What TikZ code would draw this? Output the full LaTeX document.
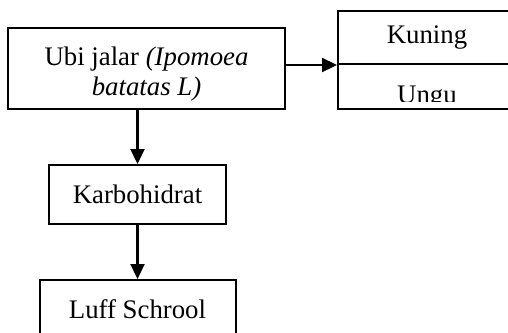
\documentclass[tikz,border=0pt]{standalone}
\usepackage{fontspec}
\setmainfont{Liberation Serif}
\usetikzlibrary{arrows.meta, positioning}

\tikzset{
  kotak/.style={draw, line width=1pt, align=center, inner sep=0pt,
                font=\fontsize{13.4}{15}\selectfont},
  teks/.style={align=center, inner sep=0pt, font=\fontsize{13.4}{15}\selectfont},
  panah/.style={line width=1.1pt, -{Triangle[length=7.5pt, width=7pt]}}
}

\begin{document}
\begin{tikzpicture}[x=0.5pt, y=-0.5pt]
  \useasboundingbox (0,0) rectangle (508,332);
  \clip (0,0) rectangle (508,332);

  % bahan utama
  \node[kotak, minimum width=138.5pt, minimum height=40.5pt] (ubi) at (146.5,68.5) {};
  \node[teks] (ubiteks) at ([yshift=-3pt]ubi.center)
    {Ubi jalar \textit{(Ipomoea}\\ \textit{batatas L)}};

  % warna ubi jalar
  \node[kotak, minimum width=89pt, minimum height=26.75pt, anchor=north west]
    (kuning) at (337,9.5) {Kuning};
  \node[kotak, minimum width=89pt, minimum height=22.5pt, anchor=north,
        below=-1pt of kuning] (ungukotak) {};
  \begin{scope}
    \clip (ungukotak.north west) rectangle ([yshift=4.5pt]ungukotak.south east);
    \node[teks, anchor=base] (ungu) at ([yshift=3.5pt]ungukotak.south) {Ungu};
  \end{scope}

  % kandungan dan uji
  \node[kotak, minimum width=88.5pt, minimum height=29.5pt,
        below=27pt of ubi, xshift=-4.5pt] (karbo) {Karbohidrat};
  \node[kotak, minimum width=98pt, minimum height=29.5pt,
        below=27pt of karbo] (luff) {Luff Schrool};

  \draw[panah] (ubi.east |- kuning.south) -- (kuning.south west);
  \draw[panah] (karbo.north |- ubi.south) -- (karbo.north);
  \draw[panah] (karbo.south) -- (luff.north);
\end{tikzpicture}
\end{document}
